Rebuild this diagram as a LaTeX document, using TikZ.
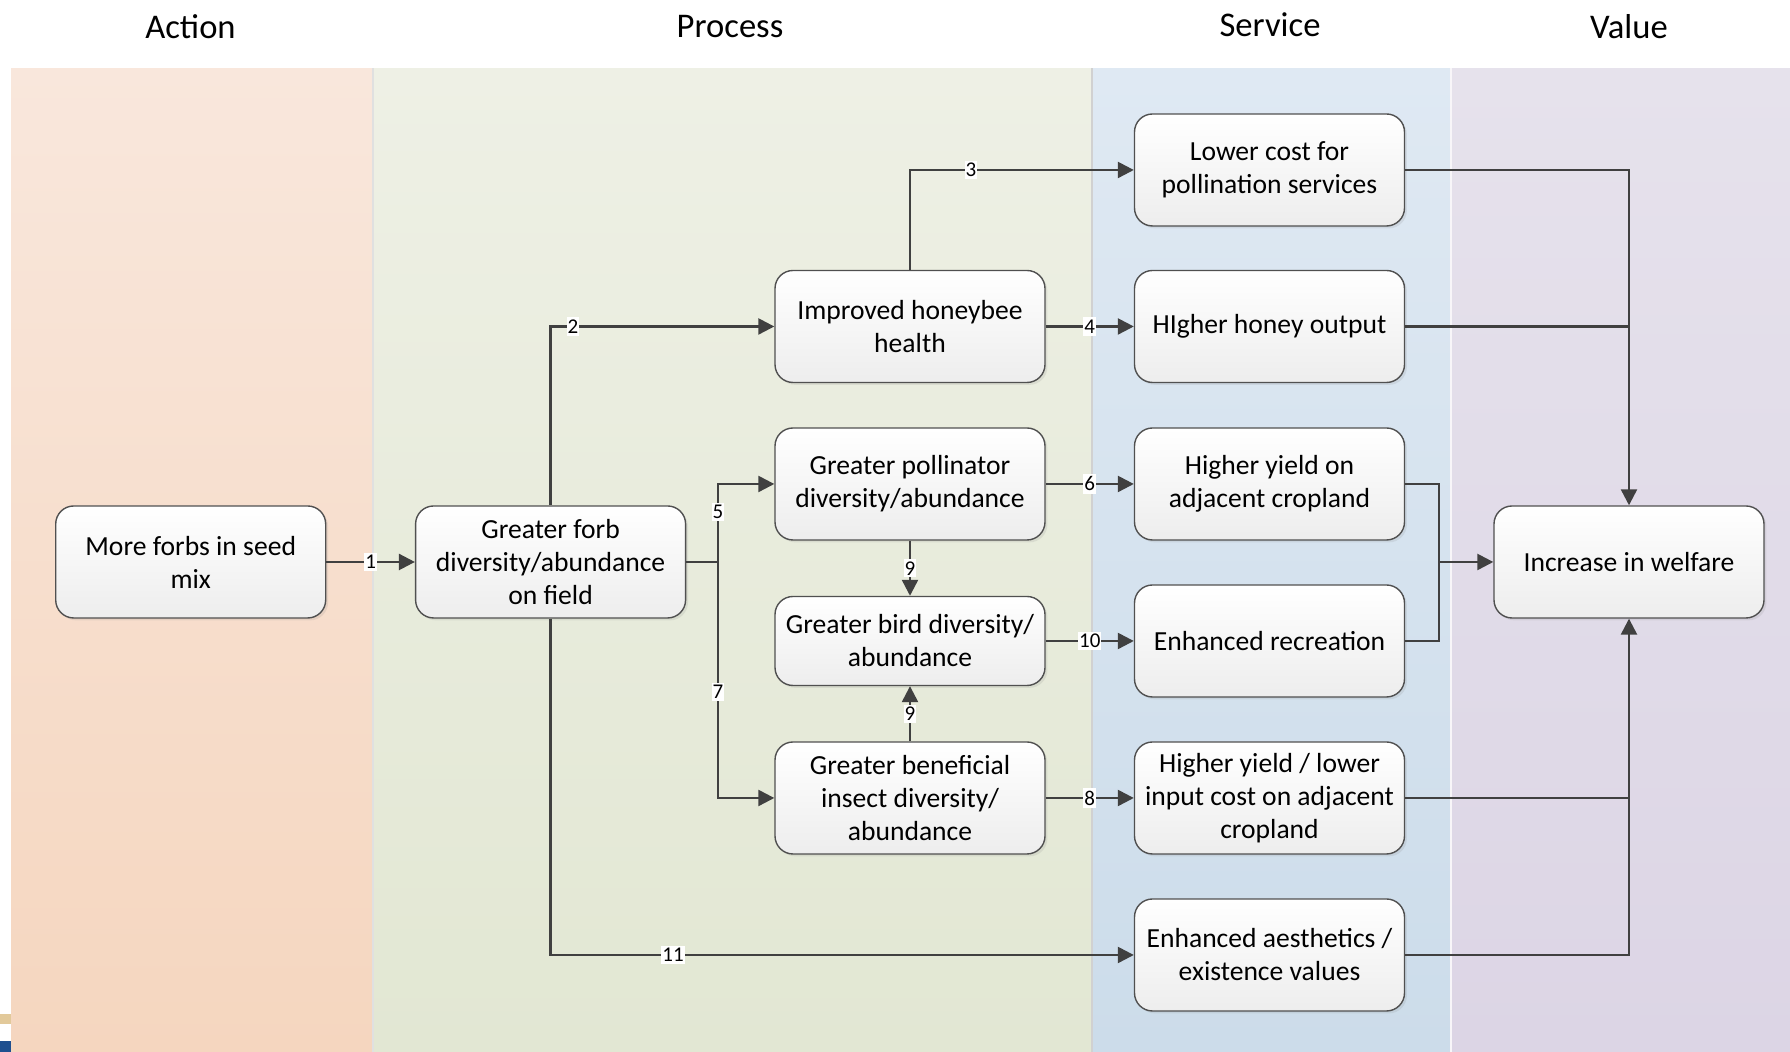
\documentclass[tikz,border=0pt]{standalone}
\usepackage{fontspec}
\setmainfont{Carlito}
\usepackage{tikz}
\usetikzlibrary{arrows.meta,shadows}
\definecolor{lineclr}{HTML}{404040}
\definecolor{boxline}{HTML}{505050}
\definecolor{actTop}{HTML}{F9E7DC}
\definecolor{actBot}{HTML}{F5D6BF}
\definecolor{proTop}{HTML}{EEF0E5}
\definecolor{proBot}{HTML}{E2E7D3}
\definecolor{serTop}{HTML}{DFE9F3}
\definecolor{serBot}{HTML}{CCDCEA}
\definecolor{valTop}{HTML}{E6E2EC}
\definecolor{valBot}{HTML}{DCD5E5}
\tikzset{box/.style={draw=boxline, line width=0.7pt, rounded corners=9pt,
  minimum width=135pt, minimum height=56pt, inner sep=2pt, align=center,
  top color=white, bottom color=black!7,
  drop shadow={shadow xshift=1.2pt, shadow yshift=-1.2pt, opacity=.15},
  font=\fontsize{13.8}{16.5}\selectfont}}
\tikzset{conn/.style={draw=lineclr, line width=1.2pt, -{Triangle[length=8pt,width=8pt]}}}
\tikzset{link/.style={draw=lineclr, line width=1.2pt}}
\tikzset{lbl/.style={fill=white, inner xsep=0.5pt, inner ysep=1.2pt,
  font=\fontsize{10.5}{11}\selectfont}}
\tikzset{head/.style={font=\fontsize{17.3}{20}\selectfont}}

\begin{document}
\begin{tikzpicture}[x=0.5pt, y=0.5pt]
\useasboundingbox (0,0) rectangle (1790,1052);

\shade[top color=actTop, bottom color=actBot] (11,0) rectangle (372,983.5);
\shade[top color=proTop, bottom color=proBot] (372,0) rectangle (1091,983.5);
\shade[top color=serTop, bottom color=serBot] (1091,0) rectangle (1451,983.5);
\shade[top color=valTop, bottom color=valBot] (1451,0) rectangle (1790,983.5);
\draw[black!12, line width=1.3pt] (373,0) -- (373,983.5);
\draw[black!18, line width=1.3pt] (1092,0) -- (1092,983.5);
\draw[white!70!valTop, line width=1pt] (1451,0) -- (1451,983.5);
\fill[fill={rgb,255:red,226;green,201;blue,154}] (0,28) rectangle (11,38);
\fill[fill={rgb,255:red,30;green,79;blue,143}] (0,0) rectangle (11,11);

\node[head] (hAction) at (190.5,1025.5) {Action};
\node[head] (hProcess) at (730,1025.5) {Process};
\node[head] (hService) at (1270,1027.5) {Service};
\node[head] (hValue) at (1629,1025.5) {Value};

\node[box] (seed) at (190.7,490) {More forbs in seed\\mix};
\node[box] (forb) at (550.6,490) {Greater forb\\diversity/abundance\\on field};
\node[box] (bee) at (910,725.5) {Improved honeybee\\health};
\node[box] (poll) at (910,568) {Greater pollinator\\diversity/abundance};
\node[box, minimum height=44.5pt] (bird) at (910,411) {Greater bird diversity/\\abundance};
\node[box] (insect) at (910,254) {Greater beneficial\\insect diversity/\\abundance};
\node[box] (cost) at (1269.5,882) {Lower cost for\\pollination services};
\node[box] (honey) at (1269.5,725.5) {HIgher honey output};
\node[box] (yield) at (1269.5,568) {Higher yield on\\adjacent cropland};
\node[box] (recr) at (1269.5,411) {Enhanced recreation};
\node[box] (input) at (1269.5,254) {Higher yield / lower\\input cost on adjacent\\cropland};
\node[box] (aest) at (1269.5,97) {Enhanced aesthetics /\\existence values};
\node[box] (welf) at (1629,490) {Increase in welfare};

\coordinate (split) at (718,490);
\coordinate (merge) at (1438.7,490);

\draw[conn] (seed) -- node[lbl] {1} (forb);
\draw[conn] (forb.north) |- node[lbl, pos=.55] {2} (bee.west);
\draw[conn] (bee.north) |- node[lbl, pos=.636] {3} (cost.west);
\draw[conn] (bee) -- node[lbl] {4} (honey);
\draw[conn] (forb.east) -- (split) |- node[lbl, pos=.32] {5} (poll.west);
\draw[conn] (poll) -- node[lbl] {6} (yield);
\draw[conn] (split) |- node[lbl, pos=.275] {7} (insect.west);
\draw[conn] (insect) -- node[lbl] {8} (input);
\draw[conn] (poll) -- node[lbl] {9} (bird);
\draw[conn] (insect) -- node[lbl] {9} (bird);
\draw[conn] (bird) -- node[lbl] {10} (recr);
\draw[conn] (forb.south) |- node[lbl, pos=.605] {11} (aest.west);

\draw[conn] (cost.east) -| (welf.north);
\draw[link] (honey.east) -- (honey.east -| welf.north);
\draw[conn] (yield.east) -| (merge) -- (welf.west);
\draw[link] (recr.east) -| (merge);
\draw[conn] (aest.east) -| (welf.south);
\draw[link] (input.east) -- (input.east -| welf.south);

\end{tikzpicture}
\end{document}
